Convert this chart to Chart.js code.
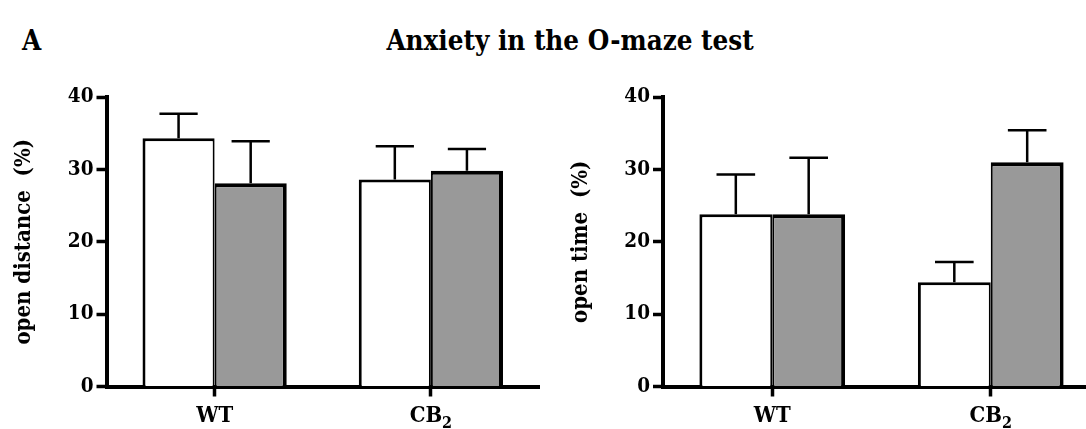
<!DOCTYPE html>
<html>
<head>
<meta charset="utf-8">
<script src="https://cdn.jsdelivr.net/npm/chart.js@4.4.1/dist/chart.umd.min.js"></script>
<style>
  html, body { margin: 0; padding: 0; background: #fff; }
  body {
    width: 1086px; height: 429px; position: relative; overflow: hidden;
    font-family: 'DejaVu Serif Condensed', 'DejaVu Serif', serif; color: #000;
  }
  .tag, .headline {
    position: absolute; top: 27px; font-weight: bold; font-size: 27.5px; line-height: 27px;
  }
  .tag { left: 22px; }
  .headline { left: 320px; width: 500px; text-align: center; }
  canvas { position: absolute; top: 0; }
  #distance { left: 0; }
  #time { left: 560px; }
</style>
</head>
<body>
<div class="tag">A</div>
<div class="headline">Anxiety in the O-maze test</div>
<canvas id="distance" width="560" height="429"></canvas>
<canvas id="time" width="560" height="429"></canvas>

<script>
'use strict';

const groups = ['WT', 'CB₂'];
const yTicks = [0, 10, 20, 30, 40];

// open distance (%): bar means and upper SEM
const distanceWhite    = [34.3, 28.6];
const distanceWhiteSem = [3.4, 4.6];
const distanceGrey     = [28.1, 29.8];
const distanceGreySem  = [5.8, 3.0];

// open time (%)
const timeWhite    = [23.8, 14.4];
const timeWhiteSem = [5.5, 2.8];
const timeGrey     = [23.8, 31.0];
const timeGreySem  = [7.8, 4.4];

const FONT = "'DejaVu Serif Condensed', 'DejaVu Serif', serif";

// one-sided SEM whiskers on top of each bar
const semBars = {
    id: 'semBars',
    afterDatasetsDraw(chart) {
        const { ctx } = chart;
        const yScale = chart.scales.y;
        ctx.save();
        ctx.strokeStyle = '#000';
        ctx.lineWidth = 2.5;
        chart.data.datasets.forEach((ds, d) => {
            chart.getDatasetMeta(d).data.forEach((bar, i) => {
                const top  = yScale.getPixelForValue(ds.data[i] + ds.sem[i]);
                const half = bar.width * 0.265;
                ctx.beginPath();
                ctx.moveTo(bar.x, bar.y);
                ctx.lineTo(bar.x, top);
                ctx.moveTo(bar.x - half, top);
                ctx.lineTo(bar.x + half, top);
                ctx.stroke();
            });
        });
        ctx.restore();
    },
};

// category names under the x ticks, trailing ₀-₉ drawn as a real subscript
const groupLabels = {
    id: 'groupLabels',
    afterDraw(chart) {
        const { ctx } = chart;
        const xs = chart.scales.x;
        const base = xs.top + 35;
        ctx.save();
        ctx.fillStyle = '#000';
        ctx.textAlign = 'left';
        ctx.textBaseline = 'alphabetic';
        chart.data.labels.forEach((label, i) => {
            const m = label.match(/^(.*?)([\u2080-\u2089]*)$/);
            const main = m[1];
            const sub = [...m[2]].map(c => String(c.charCodeAt(0) - 0x2080)).join('');

            ctx.font = `bold 22px ${FONT}`;
            const wMain = ctx.measureText(main).width;
            ctx.font = `bold 16px ${FONT}`;
            const wSub = sub ? ctx.measureText(sub).width : 0;

            const x0 = xs.getPixelForTick(i) - (wMain + wSub) / 2;
            ctx.font = `bold 22px ${FONT}`;
            ctx.fillText(main, x0, base);
            if (sub) {
                ctx.font = `bold 16px ${FONT}`;
                ctx.fillText(sub, x0 + wMain, base + 6);
            }
        });
        ctx.restore();
    },
};

function makePanel(id, yTitle, white, whiteSem, grey, greySem, frame) {
    const barCommon = { categoryPercentage: 0.667, barPercentage: 1, borderColor: '#000' };

    return new Chart(document.getElementById(id), {
        type: 'bar',
        data: {
            labels: groups,
            datasets: [
                { ...barCommon, data: white, sem: whiteSem, backgroundColor: '#ffffff',
                  borderWidth: { top: 3, left: 3, right: 2, bottom: 0 } },
                { ...barCommon, data: grey, sem: greySem, backgroundColor: '#999999',
                  borderWidth: { top: 4, left: 2, right: 4, bottom: 0 } },
            ],
        },
        options: {
            responsive: false,
            animation: false,
            layout: { padding: { top: 97, right: frame.right, left: 0, bottom: 0 } },
            plugins: {
                legend:  { display: false },
                tooltip: { enabled: false },
            },
            scales: {
                x: {
                    z: 1,
                    grid: {
                        display: true, drawOnChartArea: false, offset: false,
                        color: '#000', tickColor: '#000', tickLength: 10, tickWidth: 3.5,
                    },
                    border: { display: true, color: '#000', width: 4 },
                    ticks: { display: false },
                    afterFit(s) {
                        s.height = 42.5;
                        s.paddingLeft = 0;
                        s.paddingRight = 0;
                    },
                },
                y: {
                    min: yTicks[0],
                    max: yTicks[yTicks.length - 1],
                    grid: {
                        display: true, drawOnChartArea: false,
                        color: '#000', tickColor: '#000', tickLength: 10, tickWidth: 3.5,
                    },
                    border: { display: true, color: '#000', width: 4 },
                    ticks: {
                        stepSize: yTicks[1] - yTicks[0],
                        color: '#000', padding: 3,
                        font: { family: FONT, size: 20.5, weight: 'bold' },
                    },
                    title: {
                        display: true, text: yTitle, color: '#000',
                        padding: { top: frame.titlePad, bottom: 0 },
                        font: { family: FONT, size: 22, weight: 'bold' },
                    },
                    afterFit(s) {
                        s.width = frame.axis;
                        s.paddingTop = 0;
                        s.paddingBottom = 0;
                    },
                },
            },
        },
        plugins: [semBars, groupLabels],
    });
}

makePanel('distance', 'open distance  (%)',
    distanceWhite, distanceWhiteSem, distanceGrey, distanceGreySem,
    { axis: 106.5, right: 21, titlePad: 11 });

makePanel('time', 'open time  (%)',
    timeWhite, timeWhiteSem, timeGrey, timeGreySem,
    { axis: 103, right: 20, titlePad: 8 });
</script>
</body>
</html>
